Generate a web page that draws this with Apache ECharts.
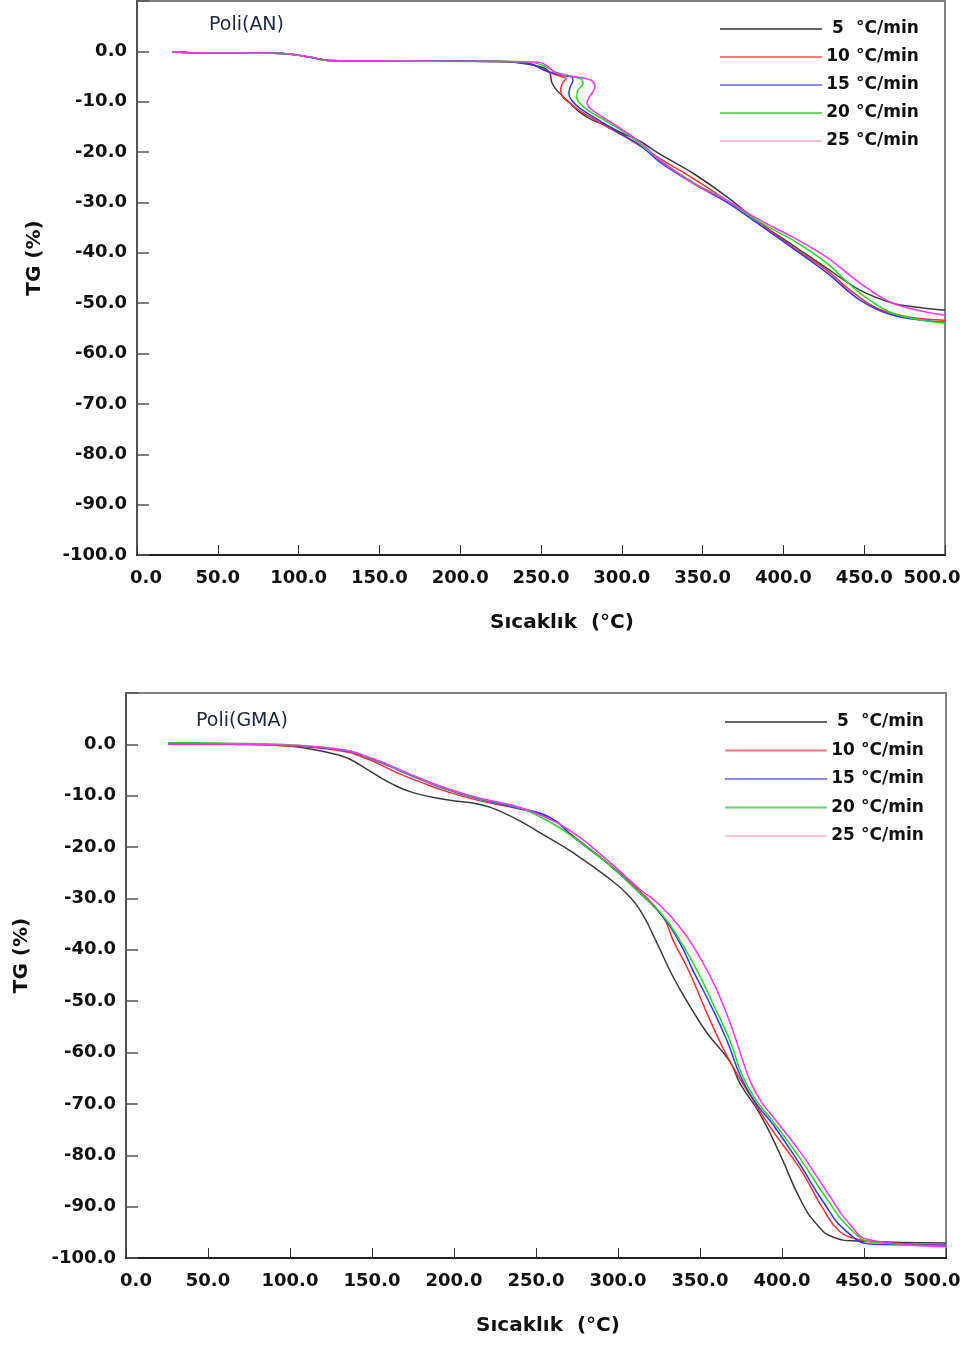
<!DOCTYPE html>
<html>
<head>
<meta charset="utf-8">
<script src="https://cdn.jsdelivr.net/npm/echarts@6/dist/echarts.min.js"></script>
<style>
html,body{margin:0;padding:0;background:#fff;}
#c{width:968px;height:1346px;}
</style>
</head>
<body>
<div id="c"></div>
<script>
// ---------- DATA ----------
const rates = [5, 10, 15, 20, 25];
const xTicks = [0, 50, 100, 150, 200, 250, 300, 350, 400, 450, 500];
const yTicks = [0, -10, -20, -30, -40, -50, -60, -70, -80, -90, -100];

// Poli(AN)
const anT5  = [22, 36, 90, 101, 111, 119, 163, 225, 243.2, 252.5, 255.6, 256.6, 258.7, 262.8, 268, 274.1, 282.2, 290.8, 300, 311, 323.6, 344.1, 365.1, 385.5, 405.9, 427, 447.4, 467.8, 483, 500];
const anW5  = [-0.1, -0.3, -0.4, -0.8, -1.4, -1.8, -1.9, -2.0, -2.6, -3.4, -4.4, -6.1, -7.3, -8.7, -10.3, -12.1, -13.7, -14.7, -16.2, -17.8, -20.4, -24.2, -28.9, -34.1, -38.5, -43.1, -47.4, -50.0, -50.8, -51.4];
const anT10 = [22, 36, 90, 101, 111, 119, 163, 225, 243.2, 252.5, 258.7, 263.6, 265.5, 264, 262.8, 262.2, 263.6, 268, 274, 282, 292, 305, 323.6, 344.1, 365.1, 385.5, 405.9, 427, 441.2, 457.9, 478.3, 500];
const anW10 = [-0.1, -0.3, -0.4, -0.8, -1.4, -1.8, -1.9, -2.0, -2.4, -3.8, -4.6, -5.1, -5.4, -6.0, -6.7, -7.7, -9.1, -10.3, -11.8, -13.3, -15.2, -17.5, -21.3, -25.2, -29.6, -34.1, -38.9, -43.5, -47.4, -51.0, -52.8, -53.4];
const anT15 = [22, 36, 90, 101, 111, 119, 163, 225, 243.2, 252.5, 258.7, 265.5, 269, 269.8, 268, 267.3, 269, 274.1, 285, 300, 312, 323.6, 344.1, 365.1, 385.5, 405.9, 427, 447.4, 467.8, 500];
const anW15 = [-0.1, -0.3, -0.4, -0.8, -1.4, -1.8, -1.9, -2.0, -2.5, -3.8, -4.4, -4.9, -5.1, -5.8, -7.1, -8.4, -9.7, -11.3, -13.5, -16.5, -18.8, -22.0, -26.2, -30.0, -34.5, -39.1, -44.0, -49.4, -52.4, -53.8];
const anT20 = [22, 36, 90, 101, 111, 119, 163, 225, 243.2, 253.5, 258.7, 268, 274.1, 275.2, 276, 272.9, 272.1, 274.1, 279.1, 290, 305, 323.6, 344.1, 365.1, 385.5, 405.9, 427, 447.4, 467.8, 500];
const anW20 = [-0.1, -0.3, -0.4, -0.8, -1.4, -1.8, -1.9, -2.0, -2.1, -3.1, -4.1, -4.9, -5.4, -5.6, -6.4, -7.7, -9.1, -10.3, -11.7, -13.8, -16.8, -21.6, -26.0, -29.6, -33.9, -37.5, -42.1, -48.0, -52.0, -54.0];
const anT25 = [22, 36, 90, 101, 111, 119, 163, 225, 243.2, 251.3, 255.6, 259.8, 268, 276, 281.4, 283.4, 282.2, 280.3, 278.5, 280.3, 286.5, 300, 312, 323.6, 344.1, 365.1, 385.5, 405.9, 427, 447.4, 467.8, 500];
const anW25 = [-0.1, -0.3, -0.4, -0.8, -1.4, -1.8, -1.9, -2.0, -2.1, -2.4, -3.4, -4.4, -4.9, -5.3, -5.8, -7.1, -8.0, -8.9, -10.1, -11.3, -12.7, -15.5, -18.2, -21.6, -26.2, -29.6, -33.5, -36.9, -40.9, -46.0, -50.0, -52.4];

// Poli(GMA)
const gmT5  = [25.6, 63.4, 93.9, 114, 128.7, 136.6, 148.8, 161, 175, 195.7, 215.9, 228, 246.3, 252.4, 272.6, 293.3, 307.3, 315.2, 323.8, 333.5, 343.9, 354.3, 368.3, 374.4, 386.6, 398.8, 411, 421.3, 431.1, 445.7, 500];
const gmW5  = [0.2, 0, -0.2, -1.0, -2.0, -2.9, -5.2, -7.5, -9.4, -10.8, -11.7, -13.0, -16.0, -17.2, -21.1, -25.8, -29.7, -33.2, -38.7, -45.2, -51.0, -56.2, -61.8, -66.0, -72.0, -79.8, -88.5, -93.5, -95.9, -96.7, -97.1];
const gmT10 = [25.6, 63.4, 93.9, 114, 134.8, 144.5, 154.9, 165.2, 179.3, 195.7, 215.9, 236, 258.5, 272.6, 293.3, 313.4, 327.5, 333.7, 343.9, 354.3, 364, 372, 380.5, 394.5, 411, 425, 435.4, 445.7, 455.5, 500];
const gmW10 = [0.3, 0.1, -0.2, -0.6, -1.5, -2.5, -3.9, -5.5, -7.3, -9.2, -11.0, -12.3, -14.3, -17.8, -23.0, -28.6, -33.6, -38.2, -44.6, -52.4, -59.1, -63.8, -68.3, -75.3, -82.6, -90.4, -94.9, -96.3, -96.9, -97.5];
const gmT15 = [25.6, 63.4, 93.9, 114, 134.8, 144.5, 154.9, 165.2, 179.3, 195.7, 215.9, 236, 258.5, 272.6, 293.3, 313.4, 327.5, 337.8, 345.7, 356.1, 366.5, 375, 384, 394.5, 411, 425, 439.6, 455.5, 500];
const gmW15 = [0.2, 0.1, -0.1, -0.5, -1.3, -2.2, -3.5, -4.9, -6.8, -8.8, -10.7, -12.2, -14.2, -18.0, -23.1, -29.0, -33.6, -38.7, -44.0, -50.5, -57.7, -64.8, -69.8, -74.0, -81.8, -89.0, -94.9, -97.3, -97.5];
const gmT20 = [25.6, 63.4, 93.9, 114, 134.8, 144.5, 154.9, 165.2, 179.3, 195.7, 215.9, 236, 252.4, 272.6, 293.3, 313.4, 327.4, 337.8, 348.2, 357.9, 368.3, 376, 385, 394.5, 411, 427.4, 441.5, 455.5, 500];
const gmW20 = [0.3, 0.2, 0, -0.4, -1.2, -2.1, -3.4, -4.8, -6.7, -8.7, -10.6, -12.0, -14.1, -18.0, -23.1, -29.0, -33.3, -38.2, -44.0, -50.5, -57.7, -64.6, -69.6, -73.4, -80.6, -88.5, -94.3, -96.9, -97.7];
const gmT25 = [25.6, 63.4, 93.9, 114, 134.8, 144.5, 154.9, 165.2, 179.3, 195.7, 215.9, 236, 252.4, 272.6, 293.3, 313.4, 323.8, 337.8, 350, 360.4, 370.1, 376, 381, 387, 394.5, 411, 427.4, 441.5, 453.7, 500];
const gmW25 = [0, 0, -0.1, -0.4, -1.2, -2.1, -3.3, -4.7, -6.6, -8.6, -10.5, -11.9, -13.7, -17.2, -22.5, -28.2, -30.8, -35.6, -41.5, -47.9, -55.8, -61.5, -65.8, -69.4, -72.5, -79.3, -87.1, -93.5, -96.5, -97.8];

const anT = [anT5, anT10, anT15, anT20, anT25];
const anW = [anW5, anW10, anW15, anW20, anW25];
const gmT = [gmT5, gmT10, gmT15, gmT20, gmT25];
const gmW = [gmW5, gmW10, gmW15, gmW20, gmW25];

// ---------- STYLE ----------
const lineColors   = ['#3c3c3c', '#ff2d2d', '#3333ff', '#22dd22', '#ff33ff'];
const legendColors = ['#666666', '#f77a7a', '#8a8af2', '#6fd46f', '#ffc2d4'];
const FONT = '"DejaVu Sans", "Liberation Sans", sans-serif';

function zip(t, w) { return t.map((v, i) => [v, w[i]]); }
const names = rates.map(r => r + ' °C/min');

function xAxisCfg(gridIndex, namePad, offMin, offMax) {
  return {
    type: 'value', gridIndex, min: 0, max: 500, interval: 50,
    axisLine: { show: true, onZero: false, lineStyle: { color: '#222', width: 2 } },
    axisTick: { show: true, inside: true, length: 10, lineStyle: { color: '#333', width: 1 } },
    splitLine: { show: false },
    axisLabel: {
      margin: 14, color: '#111', fontSize: 18, fontWeight: 'bold', fontFamily: FONT,
      formatter: v => v === 0 ? '{a|' + v.toFixed(1) + '}' : (v === 500 ? '{b|' + v.toFixed(1) + '}' : v.toFixed(1)),
      rich: {
        a: { padding: [0, 0, 0, offMin], fontSize: 18, fontWeight: 'bold', fontFamily: FONT, color: '#111' },
        b: { padding: [0, offMax, 0, 0], fontSize: 18, fontWeight: 'bold', fontFamily: FONT, color: '#111' }
      }
    },
    name: 'Sıcaklık  (°C)', nameLocation: 'middle', nameGap: 58,
    nameTextStyle: { fontSize: 20, fontWeight: 'bold', fontFamily: FONT, color: '#111', padding: [0, 0, 0, namePad] }
  };
}
function yAxisCfg(gridIndex, nameGap) {
  return {
    type: 'value', gridIndex, min: -100, max: 10, interval: 10,
    axisLine: { show: true, onZero: false, lineStyle: { color: '#555', width: 2 } },
    axisTick: { show: true, inside: true, length: 12, lineStyle: { color: '#555', width: 1.5 } },
    splitLine: { show: false },
    axisLabel: {
      margin: 10, color: '#111', fontSize: 18, fontWeight: 'bold', fontFamily: FONT,
      formatter: v => v > 0 ? '' : v.toFixed(1)
    },
    name: 'TG (%)', nameLocation: 'middle', nameRotate: 90, nameGap,
    nameTextStyle: { fontSize: 20, fontWeight: 'bold', fontFamily: FONT, color: '#111', padding: [0, 0, 0, 40] }
  };
}
function legendCfg(left, top, gap) {
  return {
    orient: 'vertical', left, top, padding: 0, itemWidth: 102, itemHeight: 2, itemGap: gap, icon: 'rect',
    data: names.map((n, i) => ({ name: n, icon: 'rect', itemStyle: { color: legendColors[i] } })),
    formatter: function (name) {
      const i = names.indexOf(name);
      return '{n|' + rates[i] + '}{d|°}{u|C/min}';
    },
    textStyle: {
      lineHeight: 20,
      rich: {
        n: { width: 22, align: 'right', fontSize: 17, fontWeight: 'bold', fontFamily: FONT, color: '#111', lineHeight: 20 },
        d: { fontSize: 17, fontWeight: 'bold', fontFamily: FONT, color: '#111', padding: [0, 0, 0, 7], lineHeight: 20 },
        u: { fontSize: 17, fontWeight: 'bold', fontFamily: FONT, color: '#111', lineHeight: 20 }
      }
    }
  };
}

const series = [];
for (let i = 0; i < 5; i++) {
  series.push({ name: names[i], type: 'line', xAxisIndex: 0, yAxisIndex: 0, data: zip(anT[i], anW[i]),
    symbol: 'none', smooth: 0.35, lineStyle: { color: lineColors[i], width: 1.5 }, itemStyle: { color: lineColors[i] } });
}
for (let i = 0; i < 5; i++) {
  series.push({ name: names[i], type: 'line', xAxisIndex: 1, yAxisIndex: 1, data: zip(gmT[i], gmW[i]),
    symbol: 'none', smooth: 0.5, lineStyle: { color: lineColors[i], width: 1.5 }, itemStyle: { color: lineColors[i] } });
}

const option = {
  backgroundColor: '#ffffff',
  animation: false,
  title: [
    { text: 'Poli(AN)', left: 204, top: 11, textStyle: { fontSize: 19, fontWeight: 'normal', fontFamily: FONT, color: '#1b2742' } },
    { text: 'Poli(GMA)', left: 191, top: 707, textStyle: { fontSize: 19, fontWeight: 'normal', fontFamily: FONT, color: '#1b2742' } }
  ],
  grid: [
    { left: 137, top: 1, width: 808, height: 554, show: true, borderColor: '#808080', borderWidth: 2, backgroundColor: 'transparent' },
    { left: 126, top: 693, width: 820, height: 565, show: true, borderColor: '#808080', borderWidth: 2, backgroundColor: 'transparent' }
  ],
  xAxis: [xAxisCfg(0, 42, 18, 26), xAxisCfg(1, 24, 20, 28)],
  yAxis: [yAxisCfg(0, 92), yAxisCfg(1, 94)],
  legend: [legendCfg(720, 19, 8), legendCfg(725, 712, 8.5)],
  series
};
const chart = echarts.init(document.getElementById('c'), null, { renderer: 'canvas' });
chart.setOption(option);
</script>
</body>
</html>
